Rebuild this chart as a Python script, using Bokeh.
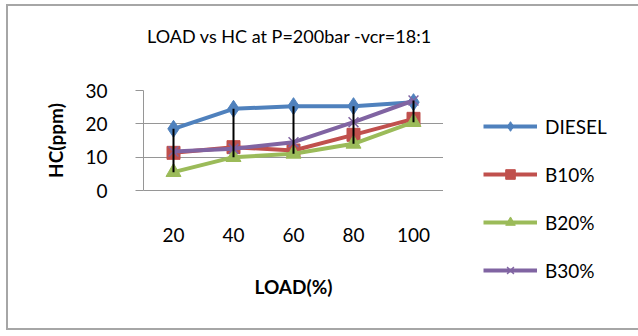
from bokeh.plotting import figure
from bokeh.layouts import row, column
from bokeh.models import Legend, LegendItem, FactorRange, Range1d, Spacer
from bokeh.core.properties import value
from bokeh.embed import file_html
from bokeh.resources import INLINE

loads = ["20", "40", "60", "80", "100"]
diesel = [18.5, 24.5, 25.3, 25.3, 26.5]
b10 = [11.3, 13.0, 12.0, 16.7, 21.5]
b20 = [5.5, 10.0, 11.0, 14.0, 20.5]
b30 = [11.7, 12.5, 14.5, 20.5, 27.0]
yticks = [0, 10, 20, 30]
title_text = "LOAD vs HC at P=200bar -vcr=18:1"
series_names = ["DIESEL", "B10%", "B20%", "B30%"]

FONT = "Lato"
GRAY = "#969696"
FRAME = "#a6a6a6"
colors = ["#4F81BD", "#C0504D", "#9BBB59", "#8064A2"]
markers = ["diamond", "square", "triangle", "x"]
sizes = [17, 13, 15, 14]


def bare(fig):
    fig.xgrid.grid_line_color = None
    fig.ygrid.grid_line_color = None
    fig.outline_line_color = None


# ---- title strip ----
t = figure(width=630, height=60, x_range=Range1d(0, 630), y_range=Range1d(0, 60),
           x_axis_type=None, y_axis_type=None, output_backend="svg",
           toolbar_location=None, min_border=0)
bare(t)
t.text(x=[281], y=[31], text=[title_text], text_font=value(FONT),
       text_font_size="18px", text_align="center", text_baseline="middle",
       text_color="#000000")

# ---- main plot ----
p = figure(
    x_range=FactorRange(*loads, range_padding=0),
    y_range=Range1d(0, 30),
    width=435, height=262,
    output_backend="svg", toolbar_location=None,
    min_border_left=135, min_border_right=0,
    min_border_top=24, min_border_bottom=138,
)
p.outline_line_color = None
p.xgrid.grid_line_color = None
p.ygrid.grid_line_color = GRAY
p.ygrid.grid_line_width = 1.2
p.yaxis.ticker = yticks

p.yaxis.axis_line_color = GRAY
p.yaxis.major_tick_line_color = GRAY
p.yaxis.major_tick_out = 8
p.yaxis.major_tick_in = 0
p.yaxis.minor_tick_line_color = None
p.yaxis.major_label_standoff = 28
p.yaxis.major_label_text_font = FONT
p.yaxis.major_label_text_font_size = "19px"
p.yaxis.major_label_text_color = "#000000"
p.yaxis.axis_label = "HC(ppm)"
p.yaxis.axis_label_text_font = FONT
p.yaxis.axis_label_text_font_size = "19px"
p.yaxis.axis_label_text_font_style = "bold"
p.yaxis.axis_label_text_color = "#000000"
p.yaxis.axis_label_standoff = 15

p.xaxis.axis_line_color = GRAY
p.xaxis.major_tick_line_color = None
p.xaxis.minor_tick_line_color = None
p.xaxis.major_label_standoff = 31
p.xaxis.major_label_text_font = FONT
p.xaxis.major_label_text_font_size = "19px"
p.xaxis.major_label_text_color = "#000000"
p.xaxis.axis_label = "LOAD(%)"
p.xaxis.axis_label_text_font = FONT
p.xaxis.axis_label_text_font_size = "19px"
p.xaxis.axis_label_text_font_style = "bold"
p.xaxis.axis_label_text_color = "#000000"
p.xaxis.axis_label_standoff = 30

all_vals = [diesel, b10, b20, b30]
for vals, color, marker, size in zip(all_vals, colors, markers, sizes):
    p.line(loads, vals, line_color=color, line_width=4)
    if marker == "x":
        p.scatter(loads, vals, marker=marker, size=size, line_color=color, line_width=1.5)
    else:
        p.scatter(loads, vals, marker=marker, size=size, fill_color=color, line_color=color)

hi = [max(v) for v in zip(*all_vals)]
lo = [min(v) for v in zip(*all_vals)]
p.segment(x0=loads, y0=hi, x1=loads, y1=lo, line_color="#000000", line_width=2)

# ---- legend strip ----
lg = figure(width=195, height=262, x_range=Range1d(0, 1), y_range=Range1d(0, 1),
            x_axis_type=None, y_axis_type=None, output_backend="svg",
            toolbar_location=None, min_border=0)
bare(lg)
items = []
for name, color, marker, size in zip(series_names, colors, markers, sizes):
    l = lg.line([-5, -4], [-5, -4], line_color=color, line_width=4)
    if marker == "x":
        m = lg.scatter([-5], [-5], marker=marker, size=size, line_color=color, line_width=1.5)
    else:
        m = lg.scatter([-5], [-5], marker=marker, size=size, fill_color=color, line_color=color)
    items.append(LegendItem(label=name, renderers=[l, m]))

legend = Legend(items=items, location=(40, 46), padding=0, margin=0,
                border_line_color=None, background_fill_alpha=0,
                glyph_width=54, glyph_height=24, spacing=24, label_standoff=8,
                label_text_font=FONT, label_text_font_size="19px",
                label_text_color="#000000", label_height=24)
lg.add_layout(legend, "center")

chart = column(t, row(p, column(lg, spacing=0), spacing=0), spacing=0)
top_bar = Spacer(width=632, height=2, styles={"background-color": FRAME})
bottom_bar = Spacer(width=632, height=2, styles={"background-color": FRAME})
left_bar = Spacer(width=2, height=322, styles={"background-color": FRAME})

layout = column(
    top_bar,
    row(left_bar, chart, spacing=0),
    bottom_bar,
    spacing=0,
    margin=(4, 0, 0, 6),
    styles={"vertical-align": "top"},
)

open("out.html", "w").write(file_html(layout, INLINE))
